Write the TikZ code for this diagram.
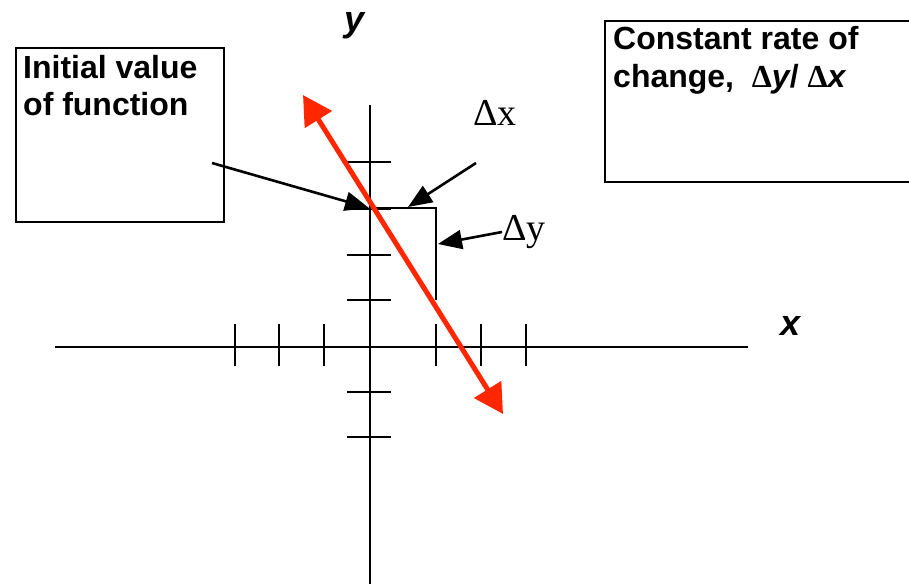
\documentclass[tikz,border=0pt]{standalone}
\usepackage{fontspec}
\setmainfont{Liberation Sans}
\newfontfamily\tms{Liberation Serif}
\usetikzlibrary{arrows.meta}
\definecolor{arrred}{RGB}{255,38,0}
\begin{document}
\begin{tikzpicture}[x=1pt,y=-1pt,
  ax/.style={line width=2.5pt,black},
  tick/.style={line width=2.5pt,black},
  boxframe/.style={draw=black,line width=2.2pt,inner sep=0pt,anchor=north west},
  boxtext/.style={anchor=base west,inner sep=0pt,font=\fontsize{32}{36}\selectfont\bfseries},
  ptr/.style={line width=2.6pt,-{Triangle[length=24pt,width=19pt]}},
  redline/.style={line width=5pt,arrred,{Triangle[length=29pt,width=31pt]}-{Triangle[length=29pt,width=31pt]}},
  dlabel/.style={anchor=base west,inner sep=0pt,font=\tms\fontsize{38}{40}\selectfont},
  axlabel/.style={anchor=base west,inner sep=0pt,font=\fontsize{36}{40}\selectfont\bfseries\itshape}]
\useasboundingbox (0,0) rectangle (909,583);
\clip (0,0) rectangle (909,583);
% axes
\coordinate (xl) at (55,347);
\coordinate (xr) at (748,347);
\coordinate (yt) at (370,105);
\coordinate (yb) at (370,590);
\draw[ax] (xl) -- (xr);
\draw[ax] (yt) -- (yb);
\foreach \t in {235,279,324,436,481,526} \draw[tick] (\t,324) -- (\t,366);
\foreach \t in {162,209,255,300,392,437} \draw[tick] (347,\t) -- (391,\t);
% delta bracket
\coordinate (o) at (370,208);
\coordinate (c) at (436,208);
\coordinate (d) at (436,300);
\draw[ax] (o) -- (c) -- (d);
% red line
\coordinate (ra) at (303,95);
\coordinate (rb) at (503,414);
\draw[redline] (ra) -- (rb);
% boxes
\node[boxframe,minimum width=208pt,minimum height=174pt] (initbox) at (15,47) {};
\node[boxtext] (init1) at (23,79) {Initial value};
\node[boxtext] (init2) at (23,115) {of function};
\node[boxframe,minimum width=330pt,minimum height=161pt] (ratebox) at (604,20) {};
\node[boxtext] (rate1) at (613,50) {Constant rate of};
\node[boxtext] (rate2) at (613,88) {change,\ \ {\tms\bfseries Δ}{\itshape y}/ {\tms\bfseries Δ}{\itshape x}};
% labels
\node[axlabel] (ylab) at (344,32) {y};
\node[axlabel] (xlab) at (780,335) {x};
\node[dlabel] (dx) at (473,125) {Δx};
\node[dlabel] (dy) at (502,240) {Δy};
% pointers
\coordinate (ip) at (212,163);
\coordinate (it) at (369,208);
\draw[ptr] (ip) -- (it);
\coordinate (dxs) at (476,163);
\coordinate (dxt) at (408,207);
\draw[ptr] (dxs) -- (dxt);
\coordinate (dys) at (502,232);
\coordinate (dyt) at (438,244);
\draw[ptr] (dys) -- (dyt);
\end{tikzpicture}
\end{document}
